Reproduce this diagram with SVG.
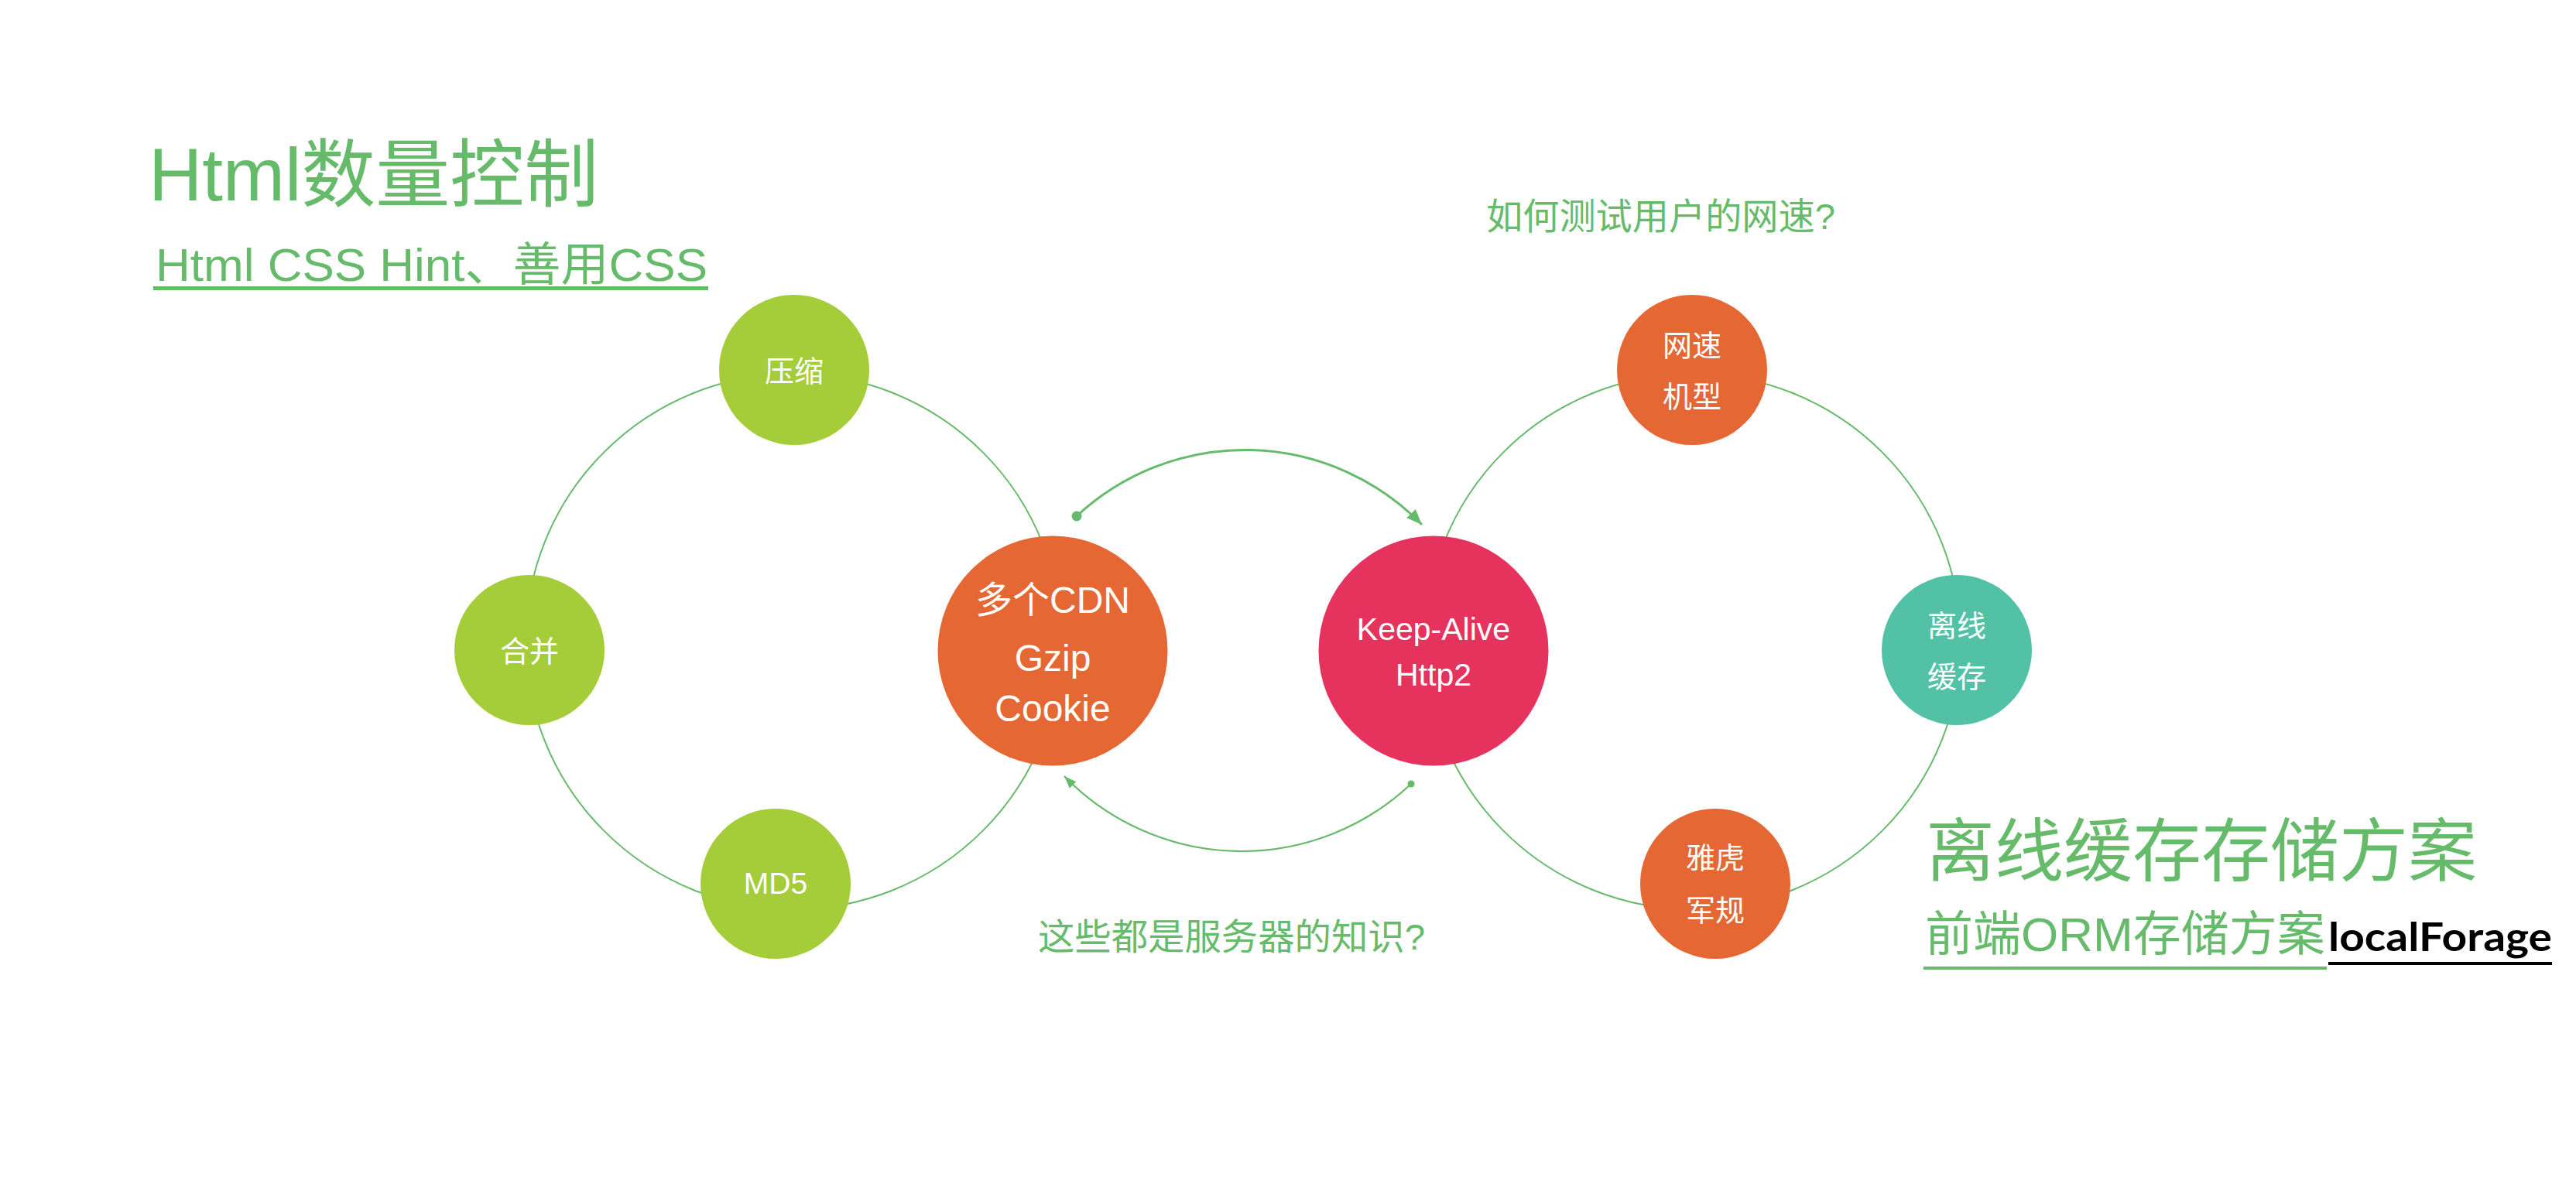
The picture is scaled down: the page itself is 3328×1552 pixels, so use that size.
<svg xmlns="http://www.w3.org/2000/svg" width="3328" height="1552" viewBox="0 0 3328 1552">
<style>
.ring{fill:none;stroke:#66BB6A;stroke-width:2}
.arc{fill:none;stroke:#66BB6A}
.lbl{font-family:"Liberation Sans","Noto Sans CJK SC",sans-serif;fill:#ffffff;text-anchor:middle}
.gt{font-family:"Liberation Sans","Noto Sans CJK SC",sans-serif;fill:#66BB6A}
.lime{fill:#A5CD39}
.orange{fill:#E56734}
.red{fill:#E5335D}
.teal{fill:#53C1A5}
</style>
<defs>
<marker id="arrowBig" markerUnits="userSpaceOnUse" markerWidth="22" markerHeight="18" refX="20" refY="9" orient="auto"><path d="M0,1 L20,9 L0,17 z" fill="#66BB6A"/></marker>
<marker id="arrowSmall" markerUnits="userSpaceOnUse" markerWidth="18" markerHeight="14" refX="16" refY="7" orient="auto"><path d="M0,1 L16,7 L0,13 z" fill="#66BB6A"/></marker>
<marker id="dotBig" markerUnits="userSpaceOnUse" markerWidth="16" markerHeight="16" refX="8" refY="8"><circle cx="8" cy="8" r="6.5" fill="#66BB6A"/></marker>
<marker id="dotSmall" markerUnits="userSpaceOnUse" markerWidth="12" markerHeight="12" refX="6" refY="6"><circle cx="6" cy="6" r="4.5" fill="#66BB6A"/></marker>
</defs>
<rect width="3328" height="1552" fill="#ffffff"/>

<g id="connectors">
<circle class="ring" cx="1025" cy="829" r="346"/>
<circle class="ring" cx="2187" cy="829" r="346"/>
<path class="arc" stroke-width="3" d="M1391,667 A319,319 0 0 1 1837,678" marker-start="url(#dotBig)" marker-end="url(#arrowBig)"/>
<path class="arc" stroke-width="2.2" d="M1823,1013 A319,319 0 0 1 1375,1003" marker-start="url(#dotSmall)" marker-end="url(#arrowSmall)"/>
</g>

<g id="title-left">
<text class="gt" x="192" y="259" font-size="96">Html数量控制</text>
<text class="gt" x="201" y="363" font-size="60" textLength="713" lengthAdjust="spacingAndGlyphs">Html CSS Hint、善用CSS</text>
<rect x="198" y="370" width="717" height="5" fill="#66BB6A"/>
</g>

<g id="question-top">
<text class="gt" x="1920" y="296" font-size="47" textLength="451" lengthAdjust="spacingAndGlyphs">如何测试用户的网速?</text>
</g>
<g id="question-bottom">
<text class="gt" x="1341" y="1227" font-size="47" textLength="500" lengthAdjust="spacingAndGlyphs">这些都是服务器的知识?</text>
</g>

<g id="title-right">
<text class="gt" x="2488" y="1131" font-size="89">离线缓存存储方案</text>
<text class="gt" x="2487" y="1229" font-size="62">前端ORM存储方案</text>
<rect x="2485" y="1249" width="521" height="4" fill="#66BB6A"/>
<text x="3008" y="1229" font-family="Lato,'Liberation Sans',sans-serif" font-weight="700" font-size="52" fill="#000000" textLength="289" lengthAdjust="spacingAndGlyphs">localForage</text>
<rect x="3008" y="1243" width="289" height="4" fill="#000000"/>
</g>

<g id="node-yasuo">
<circle class="lime" cx="1026" cy="478" r="97"/>
<text class="lbl" x="1026" y="493" font-size="38">压缩</text>
</g>
<g id="node-hebing">
<circle class="lime" cx="684" cy="840" r="97"/>
<text class="lbl" x="684" y="855" font-size="38">合并</text>
</g>
<g id="node-md5">
<circle class="lime" cx="1002" cy="1142" r="97"/>
<text class="lbl" x="1002" y="1155" font-size="39">MD5</text>
</g>
<g id="node-cdn">
<circle class="orange" cx="1360" cy="841" r="148.5"/>
<text class="lbl" x="1360" y="792" font-size="48">多个CDN</text>
<text class="lbl" x="1360" y="867" font-size="48">Gzip</text>
<text class="lbl" x="1360" y="932" font-size="48">Cookie</text>
</g>
<g id="node-keepalive">
<circle class="red" cx="1852" cy="841" r="148.5"/>
<text class="lbl" x="1852" y="827" font-size="41">Keep-Alive</text>
<text class="lbl" x="1852" y="886" font-size="41">Http2</text>
</g>
<g id="node-wangsu">
<circle class="orange" cx="2186" cy="478" r="97"/>
<text class="lbl" x="2186" y="460" font-size="38">网速</text>
<text class="lbl" x="2186" y="526" font-size="38">机型</text>
</g>
<g id="node-lixian">
<circle class="teal" cx="2528" cy="840" r="97"/>
<text class="lbl" x="2528" y="822" font-size="38">离线</text>
<text class="lbl" x="2528" y="888" font-size="38">缓存</text>
</g>
<g id="node-yahoo">
<circle class="orange" cx="2216" cy="1142" r="97"/>
<text class="lbl" x="2216" y="1122" font-size="38">雅虎</text>
<text class="lbl" x="2216" y="1190" font-size="38">军规</text>
</g>
</svg>
